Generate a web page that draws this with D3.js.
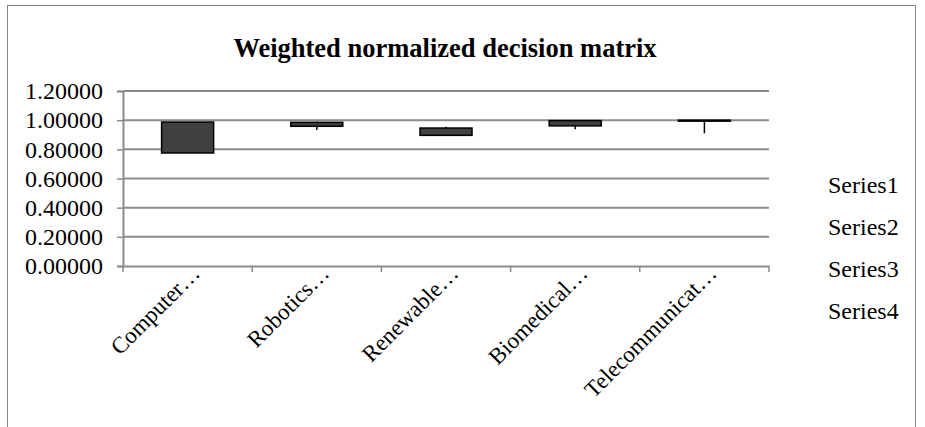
<!DOCTYPE html>
<html>
<head>
<meta charset="utf-8">
<script src="https://cdn.jsdelivr.net/npm/d3@7/dist/d3.min.js"></script>
<style>
  body { margin: 0; background: #fff; }
  text { font-family: "Liberation Serif", "Times New Roman", serif; fill: #000; }
</style>
</head>
<body>
<svg id="chart" width="925" height="427"></svg>
<script>
// Alternatives and their open / high / low / close values
const categories = ["Computer…", "Robotics…", "Renewable…", "Biomedical…", "Telecommunicat…"];
const openVals  = [0.987, 0.985, 0.946, 0.997, 1.000];
const highVals  = [0.987, 0.990, 0.955, 0.997, 1.000];
const lowVals   = [0.775, 0.933, 0.896, 0.937, 0.910];
const closeVals = [0.775, 0.958, 0.896, 0.961, 0.997];
const seriesNames = ["Series1", "Series2", "Series3", "Series4"];
const yTicks = [0, 0.2, 0.4, 0.6, 0.8, 1.0, 1.2];

const svg = d3.select("#chart");
const font = "'Liberation Serif', 'Times New Roman', serif";

// chart frame
svg.append("rect")
  .attr("x", 7.5).attr("y", 5.5).attr("width", 908).attr("height", 440)
  .attr("fill", "none").attr("stroke", "#888").attr("stroke-width", 1);

const plotL = 123, plotR = 769, plotT = 91, plotB = 266;

const x = d3.scaleBand().domain(categories).range([plotL, plotR]).paddingInner(0).paddingOuter(0);
const y = d3.scaleLinear().domain([0, 1.2]).range([plotB, plotT]);

// title
svg.append("text")
  .attr("x", 445).attr("y", 57)
  .attr("text-anchor", "middle")
  .style("font-size", "26.5px").style("font-weight", "bold")
  .text("Weighted normalized decision matrix");

// gridlines
svg.append("g").selectAll("line").data(yTicks.filter(d => d > 0)).join("line")
  .attr("x1", plotL).attr("x2", plotR)
  .attr("y1", d => y(d)).attr("y2", d => y(d))
  .attr("stroke", "#8c8c8c").attr("stroke-width", 2);

// y axis
const yAxis = svg.append("g").attr("transform", `translate(${plotL},0)`)
  .call(d3.axisLeft(y).tickValues(yTicks).tickFormat(d3.format(".5f")).tickSize(6).tickPadding(14));
yAxis.select(".domain").attr("stroke", "#8c8c8c").attr("stroke-width", 2);
yAxis.selectAll(".tick line").attr("stroke", "#8c8c8c").attr("stroke-width", 1.5);
yAxis.selectAll(".tick text")
  .style("font-size", "24px").style("font-family", font).attr("fill", "#000");

// x axis
const xAxis = svg.append("g").attr("transform", `translate(0,${plotB})`)
  .call(d3.axisBottom(x).tickSize(0).tickFormat(""));
xAxis.select(".domain").attr("stroke", "#8c8c8c").attr("stroke-width", 2);
const bounds = categories.map(c => x(c)).concat([plotR]);
svg.append("g").selectAll("line").data(bounds).join("line")
  .attr("x1", d => d).attr("x2", d => d)
  .attr("y1", plotB).attr("y2", plotB + 6)
  .attr("stroke", "#8c8c8c").attr("stroke-width", 1.5);

svg.append("g").selectAll("text").data(categories).join("text")
  .attr("transform", d => `translate(${x(d) + x.bandwidth() / 2 + 8},${plotB + 3}) rotate(-45)`)
  .attr("text-anchor", "end")
  .attr("dy", "0.35em")
  .style("font-size", "23px")
  .text(d => d);

// high-low wicks
const cx = i => x(categories[i]) + x.bandwidth() / 2;
const idx = d3.range(categories.length);
svg.append("g").selectAll("line").data(idx).join("line")
  .attr("x1", cx).attr("x2", cx)
  .attr("y1", i => y(highVals[i])).attr("y2", i => y(lowVals[i]))
  .attr("stroke", "#000").attr("stroke-width", 1.5);

// open-close bodies
const bodyW = 52;
svg.append("g").selectAll("rect").data(idx).join("rect")
  .attr("x", i => cx(i) - bodyW / 2)
  .attr("y", i => y(Math.max(openVals[i], closeVals[i])))
  .attr("width", bodyW)
  .attr("height", i => Math.max(1, y(Math.min(openVals[i], closeVals[i])) - y(Math.max(openVals[i], closeVals[i]))))
  .attr("fill", i => closeVals[i] < openVals[i] ? "#404040" : "#fff")
  .attr("stroke", "#000").attr("stroke-width", 1.5);

// legend
svg.append("g").selectAll("text").data(seriesNames).join("text")
  .attr("x", 828).attr("y", (d, i) => 185 + i * 41.7)
  .attr("dy", "0.35em")
  .style("font-size", "24px")
  .text(d => d);
</script>
</body>
</html>
